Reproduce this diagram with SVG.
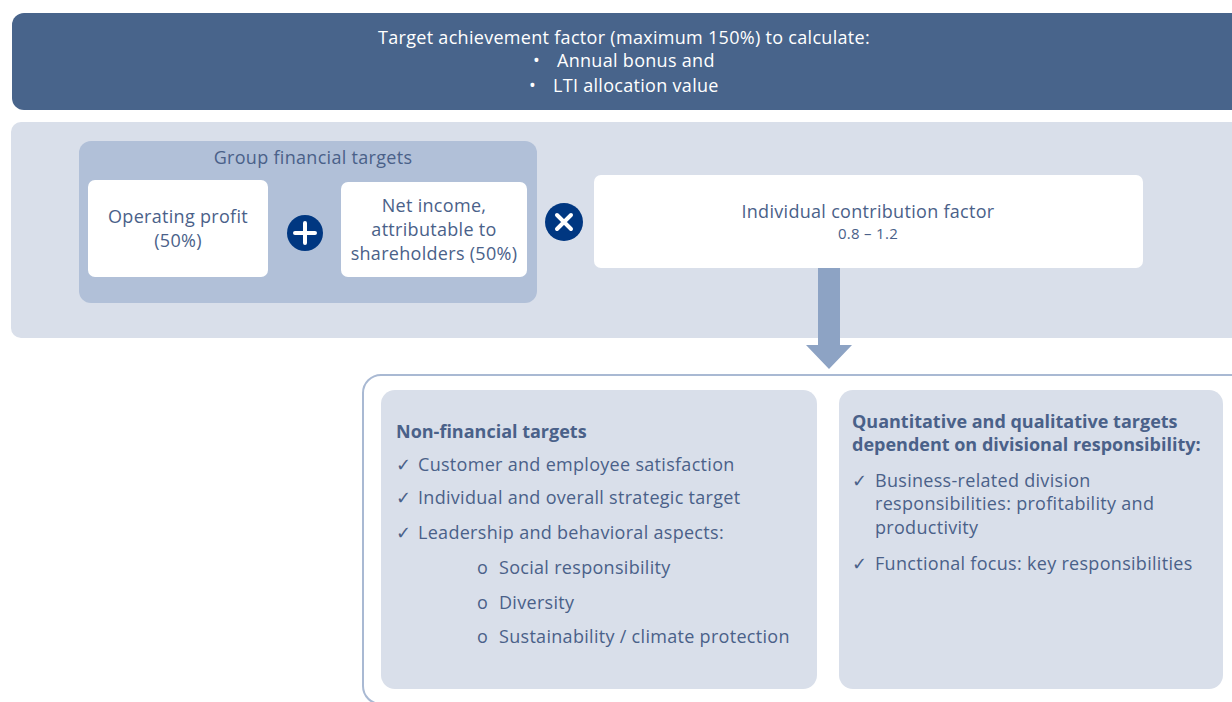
<svg xmlns="http://www.w3.org/2000/svg" width="1232" height="702" viewBox="0 0 1232 702">
<defs>
<style>
.t{font-family:"Open Sans","Liberation Sans",sans-serif;fill:#4A6189;font-size:18px;letter-spacing:0.3px}
.w{fill:#fff}
.c{text-anchor:middle}
.b{font-weight:700;letter-spacing:0}
.box{fill:#fff}
.op{fill:#003781}
</style>
</defs>
<rect width="1232" height="702" fill="#fff"/>
<g id="banner">
<rect x="12" y="13" width="1240" height="97" rx="12" fill="#48648B"/>
<text class="t w c" x="624" y="44">Target achievement factor (maximum 150%) to calculate:</text>
<text class="t w" x="533" y="67">•</text><text class="t w" x="557" y="67">Annual bonus and</text>
<text class="t w" x="529" y="92">•</text><text class="t w" x="553" y="92">LTI allocation value</text>
</g>
<g id="calc-panel">
<rect x="11" y="122" width="1240" height="216" rx="10" fill="#D9DFEA"/>
</g>
<g id="group-financial">
<rect x="79" y="141" width="458" height="162" rx="12" fill="#B1C0D8"/>
<text class="t c" x="313" y="164">Group financial targets</text>
</g>
<g id="operating-profit">
<rect class="box" x="88" y="180" width="180" height="97" rx="7"/>
<text class="t c" x="178" y="223">Operating profit</text>
<text class="t c" x="178" y="247">(50%)</text>
</g>
<g id="plus">
<circle class="op" cx="305" cy="233" r="18"/>
<path d="M305 223v20M295 233h20" stroke="#fff" stroke-width="4" stroke-linecap="round"/>
</g>
<g id="net-income">
<rect class="box" x="341" y="182" width="186" height="95" rx="7"/>
<text class="t c" x="434" y="212">Net income,</text>
<text class="t c" x="434" y="236">attributable to</text>
<text class="t c" x="434" y="260">shareholders (50%)</text>
</g>
<g id="times">
<circle class="op" cx="564" cy="222" r="19"/>
<path d="M557 215l14 14M571 215l-14 14" stroke="#fff" stroke-width="4" stroke-linecap="round"/>
</g>
<g id="individual-factor">
<rect class="box" x="594" y="175" width="549" height="93" rx="7"/>
<text class="t c" x="868" y="218">Individual contribution factor</text>
<text class="t c" x="868" y="239" style="font-size:15px">0.8 – 1.2</text>
</g>
<g id="connectors">
<path d="M818 268h22v77h12l-23 24l-23-24h12z" fill="#8DA3C4"/>
</g>
<g id="targets-frame">
<rect x="363" y="375" width="900" height="329" rx="18" fill="#fff" stroke="#A9B9D3" stroke-width="2"/>
</g>
<g id="non-financial">
<rect x="381" y="390" width="436" height="299" rx="14" fill="#D9DFEA"/>
<text class="t b" x="396" y="438">Non-financial targets</text>
<text class="t" x="396" y="471">✓</text><text class="t" x="418" y="471">Customer and employee satisfaction</text>
<text class="t" x="396" y="504">✓</text><text class="t" x="418" y="504">Individual and overall strategic target</text>
<text class="t" x="396" y="539">✓</text><text class="t" x="418" y="539">Leadership and behavioral aspects:</text>
<text class="t" x="477" y="574">o</text><text class="t" x="499" y="574">Social responsibility</text>
<text class="t" x="477" y="609">o</text><text class="t" x="499" y="609">Diversity</text>
<text class="t" x="477" y="643">o</text><text class="t" x="499" y="643">Sustainability / climate protection</text>
</g>
<g id="divisional">
<rect x="839" y="390" width="384" height="299" rx="14" fill="#D9DFEA"/>
<text class="t b" x="852" y="428">Quantitative and qualitative targets</text>
<text class="t b" x="852" y="451">dependent on divisional responsibility:</text>
<text class="t" x="852" y="487">✓</text><text class="t" x="875" y="487">Business-related division</text>
<text class="t" x="875" y="510">responsibilities: profitability and</text>
<text class="t" x="875" y="534">productivity</text>
<text class="t" x="852" y="570">✓</text><text class="t" x="875" y="570">Functional focus: key responsibilities</text>
</g>
</svg>
